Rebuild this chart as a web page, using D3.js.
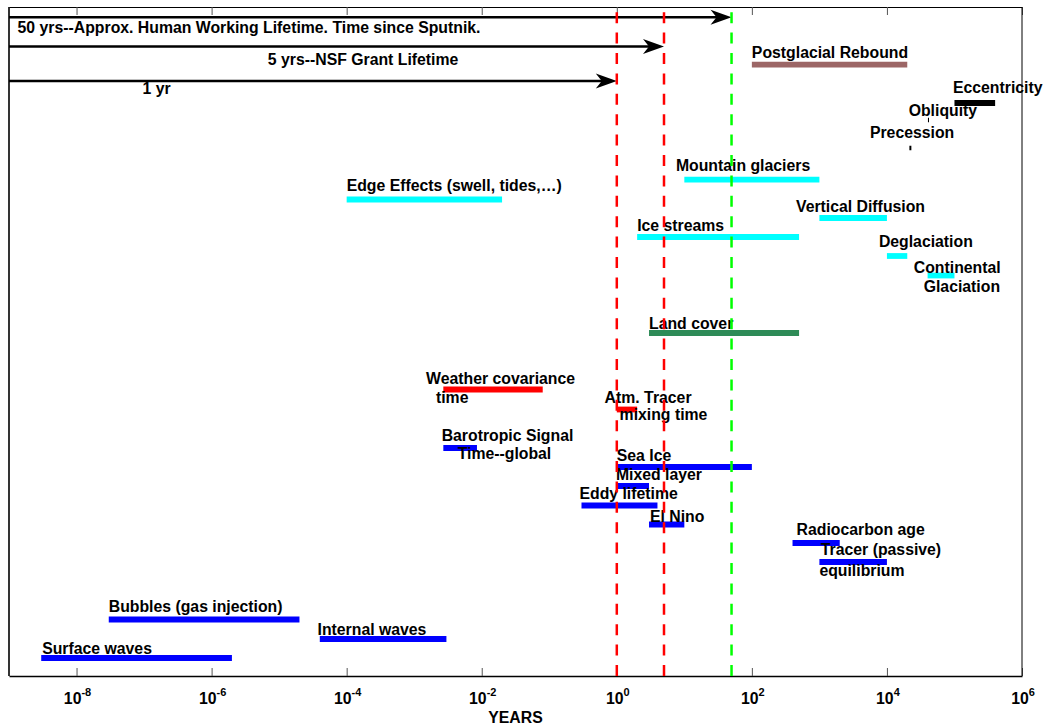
<!DOCTYPE html>
<html>
<head>
<meta charset="utf-8">
<script src="https://cdn.jsdelivr.net/npm/d3@7"></script>
<style>
  body { margin: 0; background: #fff; }
  svg text { font-family: "Liberation Sans", Arial, sans-serif; font-weight: bold; font-size: 15.8px; fill: #000; }
</style>
</head>
<body>
<script>
    const timescales_width = 1044;
    const timescales_height = 728;

    // horizontal bars: range of time scales (years) and the row they sit on
    const bar_names = ['Surface waves', 'Internal waves', 'Bubbles', 'Tracer', 'Radiocarbon', 'El Nino',
      'Eddy', 'Mixed layer', 'Sea Ice', 'Barotropic', 'Atm. Tracer', 'Weather', 'Land cover',
      'Continental Glaciation', 'Deglaciation', 'Ice streams', 'Vertical Diffusion', 'Edge Effects',
      'Mountain glaciers', 'Precession', 'Obliquity', 'Eccentricity', 'Postglacial Rebound'];
    const bar_start = [3e-9, 4e-5, 3e-8, 1000, 400, 3, 0.3, 1, 1, 2.7e-3, 1, 2.7e-3, 3,
      40000, 10000, 2, 1000, 1e-4, 10, 21500, 40500, 100000, 100];
    const bar_end = [2e-6, 3e-3, 2e-5, 10000, 2000, 10, 4, 3, 100, 8.5e-3, 2, 0.08, 500,
      100000, 20000, 500, 10000, 0.02, 1000, 23000, 42000, 400000, 20000];
    const bar_level = [1.8, 3.7, 5.65, 11.4, 13.3, 15.15, 17.05, 19.0, 20.9, 22.8, 26.65, 28.65, 34.3,
      40.05, 42.0, 43.9, 45.8, 47.65, 49.63, 52.8, 55.6, 57.3, 61.13];
    const bar_group = ['ocean', 'ocean', 'ocean', 'ocean', 'ocean', 'ocean', 'ocean', 'ocean', 'ocean', 'ocean',
      'atmos', 'atmos', 'land', 'ice', 'ice', 'ice', 'ice', 'ice', 'ice', 'orbit', 'orbit', 'orbit', 'earth'];

    // text labels, one entry per line of text
    const label_text = ['Surface waves', 'Internal waves', 'Bubbles (gas injection)',
      'Tracer (passive)', 'equilibrium', 'Radiocarbon age', 'El Nino', 'Eddy lifetime', 'Mixed layer',
      'Sea Ice', 'Barotropic Signal', 'Time--global', 'Atm. Tracer', 'mixing time',
      'Weather covariance', 'time', 'Land cover', 'Continental', 'Glaciation', 'Deglaciation',
      'Ice streams', 'Vertical Diffusion', 'Edge Effects (swell, tides,\u2026)', 'Mountain glaciers',
      'Precession', 'Obliquity', 'Eccentricity', 'Postglacial Rebound'];
    const label_at = [3.1e-9, 3.7e-5, 3e-8, 1050, 1000, 460, 3.1, 0.28, 0.97, 1, 2.55e-3, 4.4e-3, 0.66, 1.1,
      1.5e-3, 2.1e-3, 3, 25000, 35000, 7600, 2, 450, 1e-4, 7.5, 5600, 21000, 95000, 100];
    const label_level = [2.2, 4.1, 6.4, 12.1, 10.0, 14.1, 15.4, 17.7, 19.6, 21.5, 23.5, 21.7, 27.3, 25.6,
      29.2, 27.3, 34.7, 40.3, 38.4, 42.9, 44.5, 46.4, 48.5, 50.5, 53.8, 56.0, 58.3, 61.8];

    // human time scale arrows
    const arrow_text = ['50 yrs--Approx. Human Working Lifetime. Time since Sputnik.', '5 yrs--NSF Grant Lifetime', '1 yr'];
    const arrow_end = [50, 5, 1];
    const arrow_level = [65.87, 62.95, 59.5];
    const arrow_label_at = [1.34e-9, 6.8e-6, 9.5e-8];
    const arrow_label_level = [64.3, 61.1, 58.2];

    const marker_years = [1, 5, 50];
    const tick_values = [1e-8, 1e-6, 1e-4, 1e-2, 1e0, 1e2, 1e4, 1e6];
    const tick_powers = ['-8', '-6', '-4', '-2', '0', '2', '4', '6'];

    const group_colour = {ocean: '#0000ff', ice: '#00ffff', atmos: '#ff0000', land: '#2e8b57', earth: '#9c6666', orbit: '#000000'};
    const marker_colour = ['#ff0000', '#ff0000', '#00ff00'];

    const svg = d3.select('body').append('svg').attr('width', timescales_width).attr('height', timescales_height);

    const x = d3.scaleLog().domain([1e-9, 1e6]).range([9, 1022]);
    const y = d3.scaleLinear().domain([0, 66.9]).range([676, 7]);

    // box
    svg.append('g')
      .attr('transform', 'translate(0,676)')
      .call(d3.axisBottom(x).tickValues(tick_values).tickSizeInner(-8).tickSizeOuter(0).tickFormat(''))
      .call(g => g.select('.domain').attr('stroke-width', 1.6))
      .call(g => g.selectAll('.tick line').attr('stroke', '#555'));
    svg.append('g')
      .attr('transform', 'translate(0,7)')
      .call(d3.axisTop(x).tickValues(tick_values).tickSizeInner(-8).tickSizeOuter(0).tickFormat(''))
      .call(g => g.selectAll('.tick line').attr('stroke', '#555'))
      .call(g => g.selectAll('.tick text').remove());
    svg.append('line').attr('x1', 9).attr('x2', 9).attr('y1', 7).attr('y2', 676).attr('stroke', '#000').attr('stroke-width', 1.6);
    svg.append('line').attr('x1', 1022).attr('x2', 1022).attr('y1', 7).attr('y2', 676).attr('stroke', '#000');

    // tick labels as 10^n
    const tl = svg.append('g').selectAll('text')
      .data(tick_values)
      .enter()
      .append('text')
        .attr('x', d => x(d) + 1)
        .attr('y', 704)
        .attr('text-anchor', 'middle');
    tl.append('tspan').text('10');
    tl.append('tspan').attr('dy', -8).style('font-size', '11px').text((d, i) => tick_powers[i]);

    svg.append('text')
      .attr('x', (x.range()[0] + x.range()[1]) / 2)
      .attr('y', 723)
      .attr('text-anchor', 'middle')
      .text('YEARS');

    // bars
    svg.append('g').selectAll('line')
      .data(bar_names)
      .enter()
      .append('line')
        .attr('x1', (d, i) => x(bar_start[i]))
        .attr('x2', (d, i) => x(bar_end[i]))
        .attr('y1', (d, i) => y(bar_level[i]))
        .attr('y2', (d, i) => y(bar_level[i]))
        .attr('stroke', (d, i) => group_colour[bar_group[i]])
        .attr('stroke-width', (d, i) => bar_group[i] == 'orbit' && i < 21 ? 4.5 : 5.8);

    svg.append('g').selectAll('text')
      .data(label_text)
      .enter()
      .append('text')
        .attr('x', (d, i) => x(label_at[i]))
        .attr('y', (d, i) => y(label_level[i]))
        .text(d => d);

    // arrows
    const arrows = svg.append('g').selectAll('g')
      .data(arrow_end)
      .enter()
      .append('g');
    arrows.append('line')
      .attr('x1', x(1e-9))
      .attr('x2', d => x(d) - 14)
      .attr('y1', (d, i) => y(arrow_level[i]))
      .attr('y2', (d, i) => y(arrow_level[i]))
      .attr('stroke', '#000')
      .attr('stroke-width', 2.5);
    arrows.append('path')
      .attr('transform', (d, i) => `translate(${x(d)},${y(arrow_level[i])})`)
      .attr('d', 'M0,0L-21,-7.5L-15,0L-21,7.5Z')
      .attr('fill', '#000');
    arrows.append('text')
      .attr('x', (d, i) => x(arrow_label_at[i]))
      .attr('y', (d, i) => y(arrow_label_level[i]))
      .text((d, i) => arrow_text[i]);

    // dashed reference lines, drawn upward from the axis
    svg.append('g').selectAll('line')
      .data(marker_years)
      .enter()
      .append('line')
        .attr('x1', d => x(d))
        .attr('x2', d => x(d))
        .attr('y1', y(0))
        .attr('y2', y(66.9))
        .attr('stroke', (d, i) => marker_colour[i])
        .attr('stroke-width', 2.5)
        .attr('stroke-dasharray', '11,9.4');
</script>
</body>
</html>
